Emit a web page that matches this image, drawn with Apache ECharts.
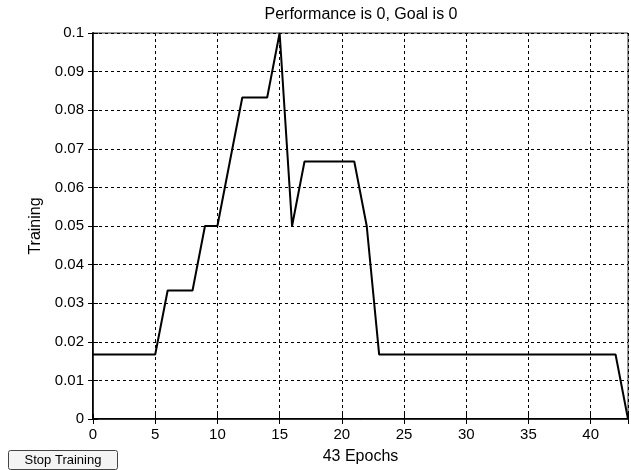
<!DOCTYPE html>
<html>
<head>
<meta charset="utf-8">
<script src="https://cdn.jsdelivr.net/npm/echarts@6/dist/echarts.min.js"></script>
<style>
html,body{margin:0;padding:0;background:#fff;}
#c{width:631px;height:470px;}
</style>
</head>
<body>
<div id="c"></div>
<script>
const epochs = [0,1,2,3,4,5,6,7,8,9,10,11,12,13,14,15,16,17,18,19,20,21,22,23,24,25,26,27,28,29,30,31,32,33,34,35,36,37,38,39,40,41,42,43];
const training = [0.0167,0.0167,0.0167,0.0167,0.0167,0.0167,0.0333,0.0333,0.0333,0.05,0.05,0.0667,0.0833,0.0833,0.0833,0.1,0.05,0.0667,0.0667,0.0667,0.0667,0.0667,0.05,0.0167,0.0167,0.0167,0.0167,0.0167,0.0167,0.0167,0.0167,0.0167,0.0167,0.0167,0.0167,0.0167,0.0167,0.0167,0.0167,0.0167,0.0167,0.0167,0.0167,0];
const titleText = 'Performance is 0, Goal is 0';
const xName = '43 Epochs';
const yName = 'Training';
const buttonText = 'Stop Training';

const font = 'Liberation Sans, Arial, sans-serif';
const dash = [3, 3];
const chart = echarts.init(document.getElementById('c'));
chart.setOption({
  animation: false,
  backgroundColor: '#ffffff',
  title: {
    text: titleText, left: 361, top: 7, padding: 0, textAlign: 'center',
    textStyle: {fontFamily: font, fontSize: 16, fontWeight: 'normal', color: '#000'}
  },
  grid: {left: 93, right: 2, top: 33, bottom: 45, show: true, borderColor: '#333', borderWidth: 1, backgroundColor: 'transparent'},
  xAxis: [{
    type: 'value', min: 0, max: 43, interval: 5,
    name: xName, nameLocation: 'middle', nameGap: 30,
    nameTextStyle: {fontFamily: font, fontSize: 16, color: '#000'},
    axisLine: {show: true, lineStyle: {color: '#000', width: 2}},
    axisTick: {show: true, inside: true, length: 5, lineStyle: {color: '#000', width: 1}},
    axisLabel: {fontFamily: font, fontSize: 15, color: '#000', margin: 8,
      formatter: v => (v % 5 === 0 ? String(v) : '')},
    splitLine: {show: true, lineStyle: {color: '#000', type: dash, width: 1}}
  }, {
    type: 'value', min: 0, max: 43, interval: 5, position: 'top',
    axisLine: {show: true, lineStyle: {color: '#333', width: 1}},
    axisTick: {show: true, inside: true, length: 5, lineStyle: {color: '#000', width: 1}},
    axisLabel: {show: false}, splitLine: {show: false}
  }],
  yAxis: [{
    type: 'value', min: 0, max: 0.1, interval: 0.01,
    name: yName, nameLocation: 'middle', nameGap: 45, nameRotate: 90,
    nameTextStyle: {fontFamily: font, fontSize: 16, color: '#000'},
    axisLine: {show: true, lineStyle: {color: '#000', width: 2}},
    axisTick: {show: true, inside: true, length: 5, lineStyle: {color: '#000', width: 1}},
    axisLabel: {fontFamily: font, fontSize: 15, color: '#000', margin: 9,
      formatter: v => String(Math.round(v * 100) / 100)},
    splitLine: {show: true, lineStyle: {color: '#000', type: dash, width: 1}}
  }, {
    type: 'value', min: 0, max: 0.1, interval: 0.01, position: 'right',
    axisLine: {show: true, lineStyle: {color: '#333', width: 1}},
    axisTick: {show: true, inside: true, length: 5, lineStyle: {color: '#000', width: 1}},
    axisLabel: {show: false}, splitLine: {show: false}
  }],
  series: [{
    type: 'line',
    xAxisIndex: 0, yAxisIndex: 0,
    data: epochs.map((e, i) => [e, training[i]]),
    showSymbol: false,
    lineStyle: {color: '#000', width: 2},
    clip: true
  }],
  graphic: [
    {type: 'rect', shape: {x: 8.5, y: 450.5, width: 109, height: 19, r: 2},
     style: {fill: '#f4f4f4', stroke: '#444', lineWidth: 1}},
    {type: 'text', x: 63, y: 460,
     style: {text: buttonText, fontFamily: font, fontSize: 13, fill: '#000', align: 'center', verticalAlign: 'middle'}}
  ]
});
</script>
</body>
</html>
